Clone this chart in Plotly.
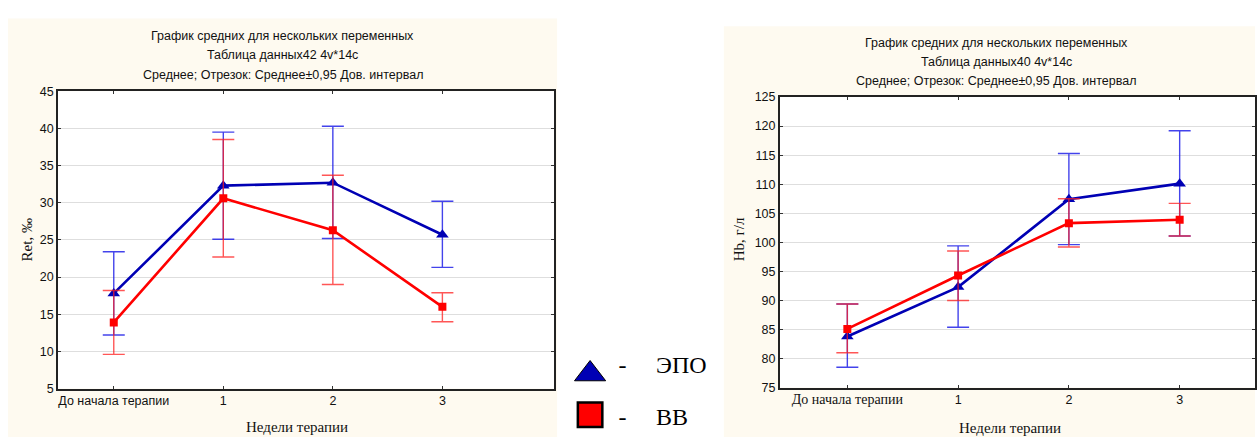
import plotly.graph_objects as go

W, H = 1257, 444

# ---------------- data ----------------
categories = ["До начала терапии", "1", "2", "3"]
cat_pos = [0, 1, 2, 3]

# Left chart: Ret, ‰
ret_epo_mean = [17.8, 32.3, 32.7, 25.7]
ret_epo_upper = [23.4, 39.5, 40.3, 30.2]
ret_epo_lower = [12.2, 25.1, 25.2, 21.3]
ret_vv_mean = [13.9, 30.6, 26.3, 16.0]
ret_vv_upper = [18.2, 38.5, 33.7, 17.9]
ret_vv_lower = [9.6, 22.7, 19.0, 14.0]

# Right chart: Hb, г/л
hb_epo_mean = [83.8, 92.3, 107.4, 110.1]
hb_epo_upper = [89.4, 99.4, 115.3, 119.2]
hb_epo_lower = [78.5, 85.4, 99.6, 101.1]
hb_vv_mean = [85.1, 94.3, 103.3, 103.9]
hb_vv_upper = [89.4, 98.5, 107.5, 106.7]
hb_vv_lower = [81.0, 90.0, 99.2, 101.1]

ret_ticks = [5, 10, 15, 20, 25, 30, 35, 40, 45]
hb_ticks = [75, 80, 85, 90, 95, 100, 105, 110, 115, 120, 125]

title_lines_left = ["График средних для нескольких переменных",
                    "Таблица данных42 4v*14c",
                    "Среднее; Отрезок: Среднее±0,95 Дов. интервал"]
title_lines_right = ["График средних для нескольких переменных",
                     "Таблица данных40 4v*14c",
                     "Среднее; Отрезок: Среднее±0,95 Дов. интервал"]
legend_names = ["ЭПО", "ВВ"]

# ---------------- styles ----------------
BLUE = "#0000b4"
BLUE_ERR = "rgba(20,20,230,0.8)"
RED = "#ff0000"
RED_ERR = "rgba(255,30,30,0.75)"
CREAM = "#fefaf0"
SANS = "Liberation Sans, Arial, sans-serif"
SERIF = "Liberation Serif, Times New Roman, serif"


def px(x):
    return x / W


def py(y):
    return 1 - y / H


def err(mean, upper, lower):
    return dict(type="data", symmetric=False,
                array=[u - m for u, m in zip(upper, mean)],
                arrayminus=[m - l for m, l in zip(mean, lower)])


fig = go.Figure()


def add_series(mean, upper, lower, color, ecolor, symbol, msize, xa, ya, name):
    e = err(mean, upper, lower)
    e.update(color=ecolor, thickness=1.4, width=11)
    fig.add_trace(go.Scatter(
        x=cat_pos, y=mean, mode="lines+markers", name=name,
        line=dict(color=color, width=2.6),
        marker=dict(symbol=symbol, size=msize, color=color, opacity=1),
        error_y=e, xaxis=xa, yaxis=ya, showlegend=False))


# Left chart
add_series(ret_epo_mean, ret_epo_upper, ret_epo_lower, BLUE, BLUE_ERR,
           "triangle-up", 11, "x", "y", legend_names[0])
add_series(ret_vv_mean, ret_vv_upper, ret_vv_lower, RED, RED_ERR,
           "square", 8, "x", "y", legend_names[1])
# Right chart
add_series(hb_epo_mean, hb_epo_upper, hb_epo_lower, BLUE, BLUE_ERR,
           "triangle-up", 11, "x2", "y2", legend_names[0])
add_series(hb_vv_mean, hb_vv_upper, hb_vv_lower, RED, RED_ERR,
           "square", 8, "x2", "y2", legend_names[1])

# Legend (drawn on a hidden helper axis)
fig.add_trace(go.Scatter(
    x=[0], y=[0.916], mode="markers", showlegend=False,
    marker=dict(symbol="triangle-up", size=27, color=BLUE, opacity=1,
                line=dict(color="black", width=1)),
    xaxis="x3", yaxis="y3"))
fig.add_trace(go.Scatter(
    x=[0], y=[0.03], mode="markers", showlegend=False,
    marker=dict(symbol="square", size=24.5, color=RED, opacity=1,
                line=dict(color="black", width=2.5)),
    xaxis="x3", yaxis="y3"))
fig.add_trace(go.Scatter(
    x=[1.2, 1.2], y=[1.063, -0.053], mode="text", text=["-", "-"],
    showlegend=False,
    textfont=dict(family=SERIF, size=24, color="black"),
    xaxis="x3", yaxis="y3"))
fig.add_trace(go.Scatter(
    x=[2.45, 2.45], y=[1.063, -0.053], mode="text", text=legend_names,
    showlegend=False, textposition="middle right",
    textfont=dict(family=SERIF, size=24, color="black"),
    xaxis="x3", yaxis="y3"))

axis_common = dict(showline=True, linecolor="#222", linewidth=1.5,
                   mirror="ticks", ticks="inside", ticklen=3, tickcolor="#333",
                   zeroline=False, fixedrange=True)

ticktext_right = ['<span style="font-family:Liberation Serif;font-size:14px">'
                  + categories[0] + '</span>'] + categories[1:]

fig.update_layout(
    width=W, height=H,
    margin=dict(l=0, r=0, t=0, b=0),
    paper_bgcolor="white", plot_bgcolor="rgba(0,0,0,0)",
    showlegend=False,
    font=dict(family=SANS, size=12, color="#111"),
    xaxis=dict(domain=[px(58), px(555)], range=[-0.51, 4.02],
               tickvals=cat_pos, ticktext=categories, showgrid=False,
               anchor="y", tickfont=dict(family=SANS, size=12.5), **axis_common),
    yaxis=dict(domain=[py(394), py(87)], range=[5, 45], tickvals=ret_ticks,
               showgrid=True, gridcolor="#dedede", gridwidth=1,
               anchor="x", tickfont=dict(family=SANS, size=12.5), **axis_common),
    xaxis2=dict(domain=[px(781), 1.0], range=[-0.61, 3.68],
                tickvals=cat_pos, ticktext=ticktext_right, showgrid=False,
                anchor="y2", tickfont=dict(family=SANS, size=12.5), **axis_common),
    yaxis2=dict(domain=[py(393), py(93)], range=[75, 125], tickvals=hb_ticks,
                showgrid=True, gridcolor="#dedede", gridwidth=1,
                anchor="x2", tickfont=dict(family=SANS, size=12.5), **axis_common),
    xaxis3=dict(domain=[px(560), px(720)], range=[-1.15, 4.78], visible=False,
                fixedrange=True),
    yaxis3=dict(domain=[0, py(350)], range=[-0.453, 1.526], visible=False,
                fixedrange=True),
)

# Panel backgrounds (cream) and white plot areas on top of them
fig.add_shape(type="rect", xref="paper", yref="paper", layer="below",
              x0=px(8), x1=px(558), y0=0, y1=py(12),
              fillcolor=CREAM, line=dict(width=0))
fig.add_shape(type="rect", xref="paper", yref="paper", layer="below",
              x0=px(725), x1=1.0, y0=0, y1=py(20),
              fillcolor=CREAM, line=dict(width=0))
fig.add_shape(type="rect", xref="x domain", yref="y domain", layer="below",
              x0=0, x1=1, y0=0, y1=1, fillcolor="white", line=dict(width=0))
fig.add_shape(type="rect", xref="x2 domain", yref="y2 domain", layer="below",
              x0=0, x1=1, y0=0, y1=1, fillcolor="white", line=dict(width=0))

# Titles
for t, yy in zip(title_lines_left, [30, 50, 70]):
    fig.add_annotation(text=t, x=px(283), y=py(yy), xref="paper", yref="paper",
                       xanchor="center", yanchor="middle", showarrow=False,
                       font=dict(family=SANS, size=12.5, color="#111"))
for t, yy in zip(title_lines_right, [37, 57, 76]):
    fig.add_annotation(text=t, x=px(998), y=py(yy), xref="paper", yref="paper",
                       xanchor="center", yanchor="middle", showarrow=False,
                       font=dict(family=SANS, size=12.5, color="#111"))

# Axis titles
fig.add_annotation(text="Недели терапии", x=px(297), y=py(434), xref="paper",
                   yref="paper", showarrow=False, xanchor="center", yanchor="middle",
                   font=dict(family=SERIF, size=15, color="#111"))
fig.add_annotation(text="Недели терапии", x=px(1012), y=py(435), xref="paper",
                   yref="paper", showarrow=False, xanchor="center", yanchor="middle",
                   font=dict(family=SERIF, size=15, color="#111"))
fig.add_annotation(text="Ret, ‰", x=px(27), y=py(240), xref="paper",
                   yref="paper", showarrow=False, textangle=-90,
                   xanchor="center", yanchor="middle",
                   font=dict(family=SERIF, size=15, color="#111"))
fig.add_annotation(text="Hb, г/л", x=px(741), y=py(240), xref="paper",
                   yref="paper", showarrow=False, textangle=-90,
                   xanchor="center", yanchor="middle",
                   font=dict(family=SERIF, size=15, color="#111"))

fig.write_html("out.html")
